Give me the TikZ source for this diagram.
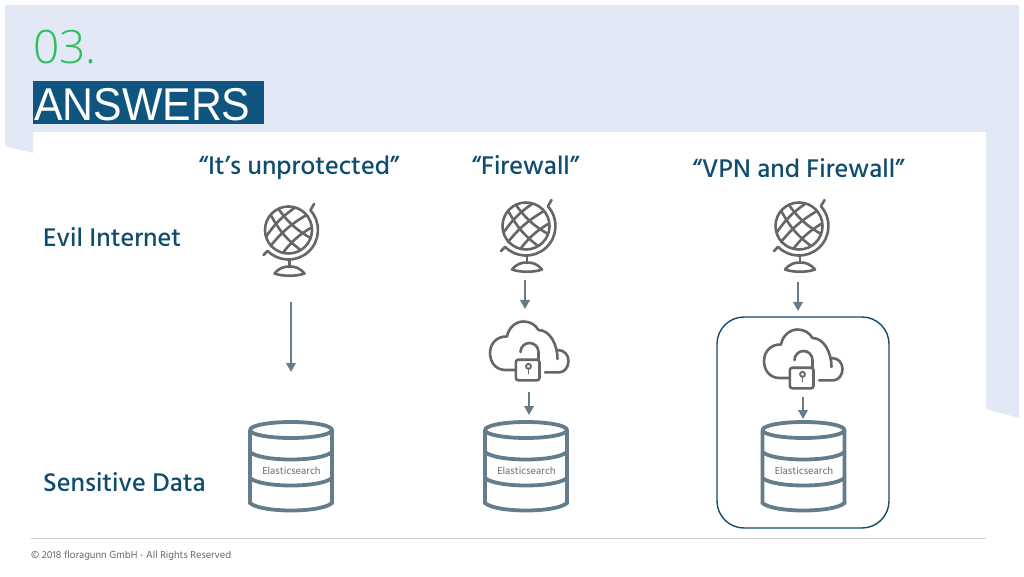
\documentclass[tikz,border=0pt]{standalone}
\usepackage{fontspec}
\setmainfont{Hind Madurai}
\newfontfamily\mediumfont{Hind Madurai Medium}
\newfontfamily\titlefont{Liberation Sans}[FakeStretch=0.93]
\newfontfamily\numberfont{Open Sans Light}
\usetikzlibrary{arrows.meta}
\definecolor{bgblue}{HTML}{E2E8F6}
\definecolor{navy}{HTML}{10557F}
\definecolor{labelblue}{HTML}{0F4C6E}
\definecolor{numgreen}{HTML}{2DBE60}
\definecolor{iconline}{HTML}{666666}
\definecolor{dbline}{HTML}{647C8C}
\definecolor{dbtext}{HTML}{75838F}
\tikzset{
    heading/.style={text=labelblue, font=\mediumfont\fontsize{26.2}{26.2}\selectfont, inner sep=0pt},
    flow/.style={draw=dbline, line width=2pt, -{Triangle[length=9pt,width=9.5pt]}},
    icon/.style={draw=iconline, line width=2.6pt, line cap=round, line join=round},
    globe/.pic={
        \draw[icon] (0,0) circle (23.5);
        % grid lines
        \draw[icon] (-17.7,15) to[bend right=12] (12,-20);
        \draw[icon] (-10,21) to[bend right=12] (22,-8);
        \draw[icon] (-22,-6) to[bend left=10] (6,22);
        \draw[icon] (-18,-16) to[bend left=10] (18,15);
        \draw[icon] (-5,-22) to[bend left=10] (22,2);
        \draw[icon] (25.5,26) -- (21.9,19.7) arc (42:-135:29.5) -- (-25,-25);
        \draw[icon] (1,-29.5) -- (1,-37);
        \draw[icon] (-14,-43.5) .. controls (-9,-37.5) and (-4,-36.5) .. (1,-36.5) .. controls (6,-36.5) and (11,-37.5) .. (16,-43.5) .. controls (8,-46.5) and (-6,-46.5) .. cycle;
    },
    cloudlock/.pic={
        % cloud outline, left part and top
        \draw[icon] (-12.5,0) -- (-22,0) .. controls (-32,0) and (-37.5,8) .. (-37.5,17) .. controls (-37.5,27) and (-30,34) .. (-20.5,33.5) .. controls (-19,42) and (-12,48.5) .. (-4,48.5) .. controls (3,48.5) and (8,45) .. (11,40) .. controls (22,40) and (30,26) .. (30,11);
        % right lobe
        \draw[icon] (30,20) .. controls (37,20) and (41,15) .. (41,9) .. controls (41,3) and (37,-2.3) .. (32,-2.3) -- (17.5,-2.3);
        % lock
        \draw[icon, rounded corners=2.5pt] (-11.7,-10.3) rectangle (12,10.3);
        \draw[icon] (-7,18) arc (180:0:9) -- (11,10.3);
        \draw[icon, line width=1.8pt] (1,3.7) circle (2.5);
        \draw[icon, line width=1.8pt] (1,1.2) -- (1,-3.5);
    },
    dbstack/.pic={
        \draw[draw=dbline, line width=3.8pt, line join=round] (-41,0) arc (180:-180:41 and 8);
        \draw[draw=dbline, line width=3.8pt, line cap=round] (-41,0) -- (-41,-73) .. controls (-30,-83) and (30,-83) .. (41,-73) -- (41,0);
        \draw[draw=dbline, line width=3.8pt] (-41,-22) .. controls (-30,-32) and (30,-32) .. (41,-22);
        \draw[draw=dbline, line width=3.8pt] (-41,-48) .. controls (-30,-58) and (30,-58) .. (41,-48);
    },
    dblabel/.style={text=dbtext, font=\mediumfont\fontsize{10.5}{10.5}\selectfont, inner sep=0pt},
}
\begin{document}
\begin{tikzpicture}[x=1pt, y=1pt]
    \useasboundingbox (0,0) rectangle (1024,576);
    % Background band and white panel
    \fill[bgblue] (5,571) -- (1019,571) -- (1019,158) -- (986,167) -- (986,444) -- (33,444) -- (33,423) -- (5,430) -- cycle;

    % Title block
    \fill[navy] (33,452) rectangle (264,495);
    \node[anchor=base west, inner sep=0pt, text=numgreen, font=\numberfont\fontsize{46}{46}\selectfont] (number) at (33,512) {03.};
    \node[anchor=base west, inner sep=0pt, text=white, font=\titlefont\fontsize{46}{46}\selectfont] (answers) at (34,455) {ANSWERS};

    % Column headings
    \node[heading] (headA) at (299,408) {“It’s unprotected”};
    \node[heading] (headB) at (525.5,411) {“Firewall”};
    \node[heading] (headC) at (798.5,408) {“VPN and Firewall”};

    % Row labels
    \node[heading, anchor=base west] (evil) at (43,329) {Evil Internet};
    \node[heading, anchor=base west] (sensitive) at (43,85) {Sensitive Data};

    % Column 1: unprotected
    \pic at (288.5,346) {globe};
    \pic at (291,146) {dbstack};
    \node[dblabel] (esA) at (291.5,105) {Elasticsearch};
    \coordinate (a1) at (291,274);
    \coordinate (a2) at (291,204);
    \draw[flow] (a1) -- (a2);

    % Column 2: firewall
    \pic at (526,350) {globe};
    \pic at (527.5,206) {cloudlock};
    \pic at (526,146) {dbstack};
    \node[dblabel] (esB) at (526.5,105) {Elasticsearch};
    \coordinate (b1) at (525,296);
    \coordinate (b2) at (525,267);
    \coordinate (b3) at (529,184);
    \coordinate (b4) at (529,161);
    \draw[flow] (b1) -- (b2);
    \draw[flow] (b3) -- (b4);

    % Column 3: VPN and firewall
    \draw[draw=labelblue, line width=1.4pt, rounded corners=27pt] (717,48) rectangle (889,259);
    \pic at (799,350) {globe};
    \pic at (801.5,198) {cloudlock};
    \pic at (803.5,146) {dbstack};
    \node[dblabel] (esC) at (804,105) {Elasticsearch};
    \coordinate (c1) at (798,294);
    \coordinate (c2) at (798,265);
    \coordinate (c3) at (803,179);
    \coordinate (c4) at (803,157);
    \draw[flow] (c1) -- (c2);
    \draw[flow] (c3) -- (c4);

    % Footer
    \draw[draw=black!20, line width=0.9pt] (31,38) -- (986,38);
    \node[anchor=base west, inner sep=0pt, text=black!60, font=\fontsize{10.4}{10.4}\selectfont] (footer) at (31,18) {© 2018 floragunn GmbH - All Rights Reserved};
\end{tikzpicture}
\end{document}
